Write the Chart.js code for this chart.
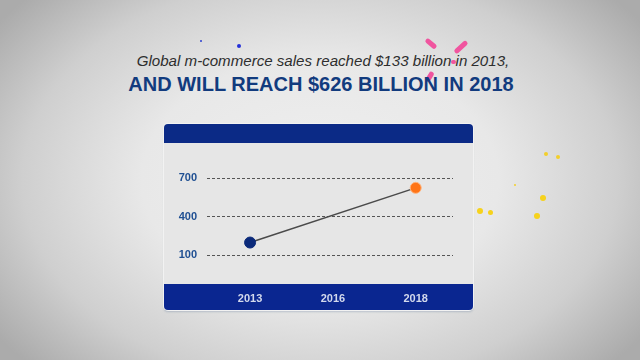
<!DOCTYPE html>
<html lang="en">
<head>
  <meta charset="UTF-8" />
  <title>Global m-commerce sales</title>
  <script src="https://cdn.jsdelivr.net/npm/chart.js"></script>
  <style>
    html, body {
      margin: 0;
      width: 640px;
      height: 360px;
      overflow: hidden;
    }
    body {
      position: relative;
      font-family: "Liberation Sans", Arial, sans-serif;
      background: radial-gradient(ellipse 62% 75% at 50% 50%, #efefef 0%, #e8e8e8 45%, #cfcfcf 75%, #ababab 100%);
    }
    .line1 {
      position: absolute; left: 0; width: 646px; top: 51px;
      text-align: center; font-style: italic; font-size: 15.1px;
      color: #2e2e2e; line-height: 20px;
    }
    .line2 {
      position: absolute; left: 0; width: 642px; top: 72px;
      text-align: center; font-weight: bold; font-size: 20px;
      color: #123b7e; line-height: 24px;
    }
    .card {
      position: absolute; left: 164px; top: 124px; width: 309px; height: 186px;
      background: #e6e6e6; border-radius: 4px;
      box-shadow: 0 0 0 1px #f2f2f2, 0 2px 2px rgba(60,90,130,0.25);
      overflow: hidden;
    }
    .card .head {
      position: absolute; left: 0; top: 0; right: 0; height: 19px;
      background: #0b2a86;
    }
    .card .plot {
      position: absolute; left: 0; top: 19px; width: 309px; height: 167px;
    }
    .dot { position: absolute; border-radius: 50%; }
    .dash {
      position: absolute; height: 5px; border-radius: 3px; background: #f0559f;
      transform-origin: 0 50%;
    }
  </style>
</head>
<body>
  <!-- deko -->
  <div class="dot" style="left:200px;top:40px;width:2px;height:2px;background:#2b3fd0"></div>
  <div class="dot" style="left:237px;top:44px;width:4px;height:4px;background:#2430d8"></div>
  <div class="dash" style="left:426px;top:37px;width:13px;transform:rotate(40deg)"></div>
  <div class="dash" style="left:455px;top:50px;width:16px;transform:rotate(-42deg)"></div>
  <div class="dash" style="left:427px;top:79px;width:11px;transform:rotate(-60deg)"></div>
  <div class="dash" style="left:451px;top:60px;width:5px;height:4px"></div>
  <div class="dot" style="left:544px;top:152px;width:4px;height:4px;background:#f3cf2a"></div>
  <div class="dot" style="left:556px;top:155px;width:4px;height:4px;background:#f3cf2a"></div>
  <div class="dot" style="left:514px;top:184px;width:2px;height:2px;background:#f3cf2a"></div>
  <div class="dot" style="left:540px;top:195px;width:6px;height:6px;background:#f6d21c"></div>
  <div class="dot" style="left:477px;top:208px;width:6px;height:6px;background:#f6d21c"></div>
  <div class="dot" style="left:488px;top:210px;width:5px;height:5px;background:#f6d21c"></div>
  <div class="dot" style="left:534px;top:213px;width:6px;height:6px;background:#f6d21c"></div>

  <div class="line1">Global m-commerce sales reached $133 billion in 2013,</div>
  <div class="line2">AND WILL REACH $626 BILLION IN 2018</div>

  <div class="card">
    <div class="head"></div>
    <div class="plot"><canvas id="salesChart" width="309" height="167"></canvas></div>
  </div>

  <script>
    // daten
    const years = ["2013", "2016", "2018"];
    const sales = [200, null, 626];          // milliarden $
    const yTicks = [100, 400, 700];
    const pointColors = ["#0b2a7a", "#0b2a7a", "#ff7417"];

    // blauer balken unter der plotfläche (x-achse)
    const bottomBar = {
      id: "bottomBar",
      beforeDraw(chart) {
        const { ctx, chartArea, width, height } = chart;
        ctx.save();
        ctx.fillStyle = "#0a2690";
        ctx.fillRect(0, chartArea.bottom, width, height - chartArea.bottom);
        ctx.restore();
      }
    };

    const points = years.map((y, i) => ({ x: i, y: sales[i] }));

    new Chart(document.getElementById("salesChart"), {
      type: "line",
      data: {
        datasets: [{
          data: points,
          borderColor: "#4a4a4a",
          borderWidth: 1.5,
          pointRadius: 5.5,
          pointHoverRadius: 5.5,
          pointBackgroundColor: pointColors,
          pointBorderColor: ["#0b2a7a", "#0b2a7a", "#ffb27a"],
          pointBorderWidth: 1,
          spanGaps: true,
          tension: 0
        }]
      },
      plugins: [bottomBar],
      options: {
        responsive: false,
        animation: false,
        maintainAspectRatio: false,
        layout: { padding: { left: 0, right: 20, top: 1, bottom: 0 } },
        plugins: { legend: { display: false }, tooltip: { enabled: false } },
        scales: {
          x: {
            type: "linear",
            min: -0.52,
            max: 2.45,
            afterBuildTicks: (axis) => { axis.ticks = years.map((_, i) => ({ value: i })); },
            afterFit: (axis) => { axis.height = 26; },
            grid: { display: false, drawTicks: false },
            border: { display: false },
            ticks: {
              padding: 8,
              color: "#d3d9ec",
              font: { family: "Liberation Sans", size: 11, weight: "bold" },
              callback: (v) => years[v]
            }
          },
          y: {
            min: -123,
            max: 846,
            afterBuildTicks: (axis) => { axis.ticks = yTicks.map(v => ({ value: v })); },
            afterFit: (axis) => { axis.width = 43; },
            grid: { color: "#555555", lineWidth: 1, drawTicks: false },
            border: { display: false, dash: [3, 2] },
            ticks: {
              padding: 10,
              color: "#1f4f92",
              font: { family: "Liberation Sans", size: 11, weight: "bold" }
            }
          }
        }
      }
    });
  </script>
</body>
</html>
